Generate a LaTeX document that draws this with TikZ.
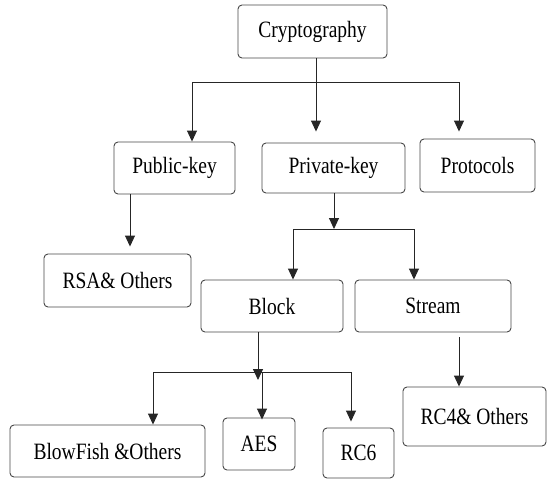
\documentclass[tikz,border=0pt]{standalone}
\usepackage{fontspec}
\usepackage{graphicx}
\setmainfont{Liberation Serif}
\usetikzlibrary{arrows.meta}
\newcommand{\vtxt}[1]{\scalebox{1}[1.2]{#1}}
\begin{document}
\begin{tikzpicture}[x=1pt,y=-1pt,
  box/.style={draw=black!72, line width=0.9pt, rounded corners=4pt, inner sep=0pt,
    font=\fontsize{19.5}{22}\selectfont},
  arr/.style={draw=black!85, line width=0.9pt, -{Triangle[length=11pt,width=10pt]}},
  ln/.style={draw=black!85, line width=0.9pt}]
\useasboundingbox (0,0) rectangle (547,479);
% nodes
\node[box, minimum width=149pt, minimum height=53pt] (crypto) at (312.5,31.5) {\vtxt{Cryptography}};
\node[box, minimum width=121pt, minimum height=52pt] (public) at (174.5,168) {\vtxt{Public-key}};
\node[box, minimum width=143pt, minimum height=50pt] (private) at (333.5,168) {\vtxt{Private-key}};
\node[box, minimum width=115pt, minimum height=53pt] (protocols) at (477.5,165.5) {\vtxt{Protocols}};
\node[box, minimum width=147pt, minimum height=53pt] (rsa) at (117.5,280.5) {\vtxt{RSA\& Others}};
\node[box, minimum width=142pt, minimum height=52pt] (block) at (272,306) {\vtxt{Block}};
\node[box, minimum width=156pt, minimum height=52pt] (stream) at (433,306) {\vtxt{Stream}};
\node[box, minimum width=195pt, minimum height=52pt] (blowfish) at (107.5,451) {\vtxt{BlowFish \&Others}};
\node[box, minimum width=72pt, minimum height=52pt] (aes) at (259,444) {\vtxt{AES}};
\node[box, minimum width=71pt, minimum height=50pt] (rc6) at (358.5,453) {\vtxt{RC6}};
\node[box, minimum width=143pt, minimum height=59pt] (rc4) at (474.5,416.5) {\vtxt{RC4\& Others}};
% junction coordinates
\coordinate (j1) at (316,82);
\coordinate (pa) at (192,82);
\coordinate (pc) at (459,82);
\coordinate (pu) at (130,194);
\coordinate (j2) at (334,229);
\coordinate (ba) at (293,229);
\coordinate (sa) at (414,229);
\coordinate (bs) at (258,332);
\coordinate (bt) at (258,380);
\coordinate (j3l) at (153,372);
\coordinate (j3r) at (351,372);
\coordinate (ae) at (262,372);
\coordinate (ss) at (459,337);
% connectors
\draw[arr, shorten >=11pt] (crypto.south -| j1) -- (private.north -| j1);
\draw[ln] (pa) -- (pc);
\draw[arr] (pa) -- (public.north -| pa);
\draw[arr, shorten >=7pt] (pc) -- (protocols.north -| pc);
\draw[arr, shorten >=7pt] (pu) -- (rsa.north -| pu);
\draw[arr] (private.south -| j2) -- (j2);
\draw[ln] (ba) -- (sa);
\draw[arr] (ba) -- (block.north -| ba);
\draw[arr] (sa) -- (stream.north -| sa);
\draw[arr] (bs) -- (bt);
\draw[ln] (j3l) -- (j3r);
\draw[arr] (j3l) -- (blowfish.north -| j3l);
\draw[arr, shorten >=-2pt] (ae) -- (aes.north -| ae);
\draw[arr, shorten >=6pt] (j3r) -- (rc6.north -| j3r);
\draw[arr] (ss) -- (rc4.north -| ss);
\end{tikzpicture}
\end{document}
